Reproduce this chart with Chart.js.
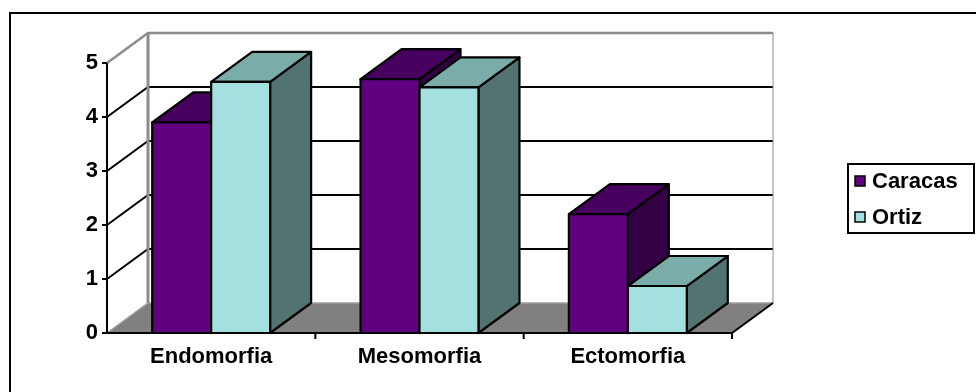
<!DOCTYPE html>
<html>
<head>
<meta charset="utf-8">
<script src="https://cdn.jsdelivr.net/npm/chart.js@4.4.0/dist/chart.umd.min.js"></script>
<style>
  html, body { margin: 0; padding: 0; background: #fff; }
  #wrap { width: 976px; height: 392px; }
</style>
</head>
<body>
<div id="wrap"><canvas id="somatotipo" width="976" height="392"></canvas></div>
<script>
// datos
const categorias = ["Endomorfia", "Mesomorfia", "Ectomorfia"];
const caracas = [3.9, 4.7, 2.2];
const ortiz = [4.65, 4.55, 0.87];
const marcasY = [0, 1, 2, 3, 4, 5];

// colores de cada serie: frente, tapa, costado
const tonos = [
  { frente: "#600080", tapa: "#470060", lado: "#330044" },
  { frente: "#a5e0e0", tapa: "#7aadaa", lado: "#52736f" }
];

// profundidad de la vista en perspectiva
const DX = 41, DY = 30;
const FUENTE = { family: "'Liberation Sans', Arial, sans-serif", size: 22, weight: "bold" };

function cara(ctx, pts, relleno) {
  ctx.beginPath();
  ctx.moveTo(pts[0][0], pts[0][1]);
  for (let k = 1; k < pts.length; k++) ctx.lineTo(pts[k][0], pts[k][1]);
  ctx.closePath();
  ctx.fillStyle = relleno;
  ctx.fill();
  ctx.stroke();
}

const caja3d = {
  id: "caja3d",
  beforeDatasetsDraw(chart) {
    const { ctx, chartArea: a, scales } = chart;
    const y = scales.y;
    const L = a.left, R = a.right, T = a.top, B = a.bottom;
    ctx.save();
    ctx.lineCap = "butt";

    // piso gris
    ctx.fillStyle = "#808080";
    ctx.beginPath();
    ctx.moveTo(L, B); ctx.lineTo(R, B); ctx.lineTo(R + DX, B - DY); ctx.lineTo(L + DX, B - DY);
    ctx.closePath();
    ctx.fill();
    ctx.strokeStyle = "#a0a0a0";
    ctx.lineWidth = 1.5;
    ctx.beginPath();
    ctx.moveTo(L, B); ctx.lineTo(L + DX, B - DY); ctx.lineTo(R + DX, B - DY);
    ctx.stroke();

    // lineas de division en pared lateral y fondo
    ctx.strokeStyle = "#000";
    ctx.lineWidth = 2;
    marcasY.forEach(v => {
      if (v === marcasY[0] || v === marcasY[marcasY.length - 1]) return;
      const py = y.getPixelForValue(v);
      ctx.beginPath();
      ctx.moveTo(L, py); ctx.lineTo(L + DX, py - DY); ctx.lineTo(R + DX, py - DY);
      ctx.stroke();
    });

    // bordes grises de las paredes
    ctx.strokeStyle = "#8c8c8c";
    ctx.lineWidth = 3;
    ctx.beginPath();
    ctx.moveTo(L + DX, B - DY); ctx.lineTo(L + DX, T - DY);
    ctx.stroke();
    ctx.lineWidth = 2.5;
    ctx.beginPath();
    ctx.moveTo(L, T); ctx.lineTo(L + DX, T - DY); ctx.lineTo(R + DX, T - DY);
    ctx.stroke();
    ctx.lineWidth = 1;
    ctx.beginPath();
    ctx.moveTo(R + DX, T - DY); ctx.lineTo(R + DX, B - DY);
    ctx.stroke();

    // ejes frontales
    ctx.strokeStyle = "#000";
    ctx.lineWidth = 2;
    ctx.beginPath();
    ctx.moveTo(L, T); ctx.lineTo(L, B + 1);
    marcasY.forEach(v => {
      const py = y.getPixelForValue(v);
      ctx.moveTo(L - 5, py); ctx.lineTo(L, py);
    });
    ctx.moveTo(L - 5, B); ctx.lineTo(R, B); ctx.lineTo(R + DX, B - DY);
    for (let k = 1; k <= categorias.length; k++) {
      const px = L + (R - L) * k / categorias.length;
      ctx.moveTo(px, B); ctx.lineTo(px, B + 6);
    }
    ctx.stroke();

    // barras en 3D, de izquierda a derecha
    ctx.lineJoin = "round";
    ctx.lineWidth = 2.2;
    ctx.strokeStyle = "#000";
    const metas = chart.data.datasets.map((d, i) => chart.getDatasetMeta(i));
    for (let j = 0; j < categorias.length; j++) {
      metas.forEach((meta, i) => {
        const el = meta.data[j];
        const x0 = el.x - el.width / 2, x1 = el.x + el.width / 2;
        const top = el.y, base = el.base;
        const t = tonos[i];
        cara(ctx, [[x1, top], [x1 + DX, top - DY], [x1 + DX, base - DY], [x1, base]], t.lado);
        cara(ctx, [[x0, top], [x1, top], [x1 + DX, top - DY], [x0 + DX, top - DY]], t.tapa);
        cara(ctx, [[x0, top], [x1, top], [x1, base], [x0, base]], t.frente);
      });
    }
    ctx.restore();
    return false;
  },
  afterDraw(chart) {
    const ctx = chart.ctx;
    ctx.save();
    // marco exterior
    ctx.strokeStyle = "#000";
    ctx.lineWidth = 2;
    ctx.beginPath();
    ctx.moveTo(10, 392); ctx.lineTo(10, 13); ctx.lineTo(976, 13);
    ctx.stroke();

    // leyenda
    const lx = 848, ly = 164, lw = 126, lh = 69;
    ctx.lineWidth = 2;
    ctx.strokeRect(lx, ly, lw, lh);
    ctx.font = `${FUENTE.weight} ${FUENTE.size}px ${FUENTE.family}`;
    ctx.textBaseline = "middle";
    ctx.textAlign = "left";
    chart.data.datasets.forEach((d, i) => {
      const cy = ly + 17 + i * 36;
      ctx.fillStyle = tonos[i].frente;
      ctx.fillRect(lx + 7, cy - 5, 10, 10);
      ctx.lineWidth = 1.5;
      ctx.strokeRect(lx + 7, cy - 5, 10, 10);
      ctx.fillStyle = "#000";
      ctx.fillText(d.label, lx + 24, cy + 1);
    });
    ctx.restore();
  }
};

new Chart(document.getElementById("somatotipo"), {
  type: "bar",
  data: {
    labels: categorias,
    datasets: [
      { label: "Caracas", data: caracas, backgroundColor: tonos[0].frente },
      { label: "Ortiz", data: ortiz, backgroundColor: tonos[1].frente }
    ]
  },
  options: {
    responsive: false,
    animation: false,
    events: [],
    categoryPercentage: 0.566,
    barPercentage: 1,
    layout: { padding: { top: 63, right: 244, left: 0, bottom: 0 } },
    plugins: { legend: { display: false }, tooltip: { enabled: false } },
    scales: {
      x: {
        grid: { display: false, drawTicks: false },
        border: { display: false },
        ticks: { color: "#000", font: FUENTE, padding: 11, maxRotation: 0 },
        afterFit: s => { s.height = 59; }
      },
      y: {
        min: 0,
        max: 5,
        grid: { display: false, drawTicks: false },
        border: { display: false },
        ticks: { color: "#000", font: FUENTE, padding: 9, stepSize: 1 },
        afterFit: s => { s.width = 107; }
      }
    }
  },
  plugins: [caja3d]
});
</script>
</body>
</html>
